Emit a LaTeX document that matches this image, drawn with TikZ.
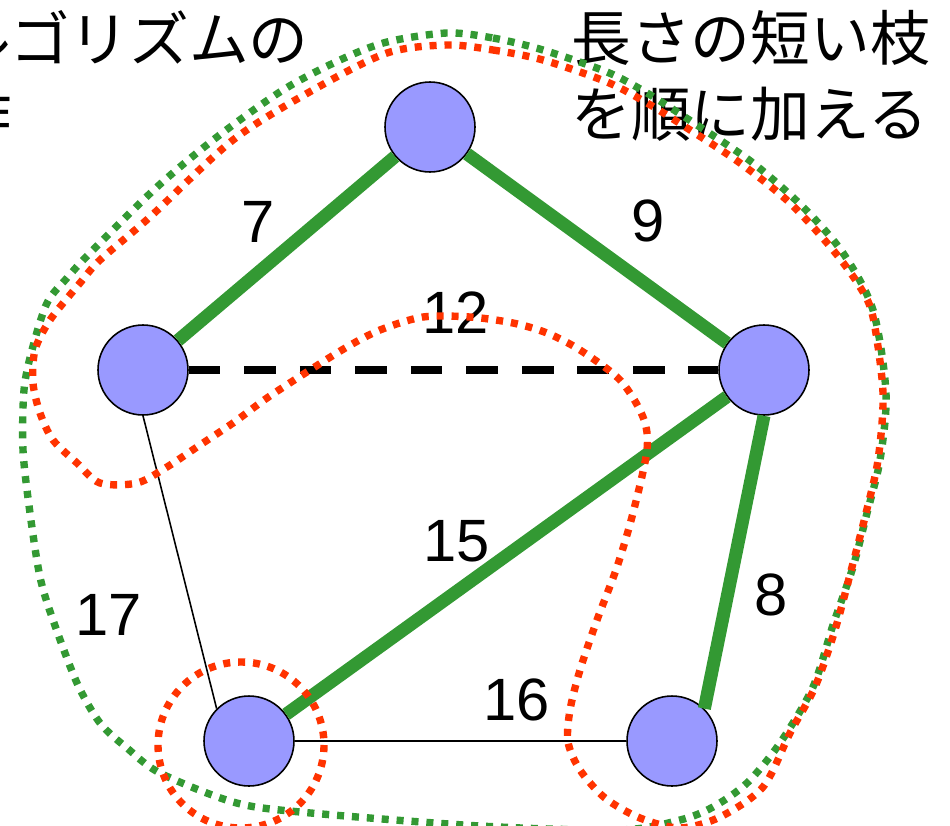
\documentclass[tikz,border=0pt]{standalone}
\usepackage{fontspec}
\setmainfont{Liberation Sans}
\newfontfamily\jpfont{Noto Sans CJK JP}
\definecolor{vertexblue}{HTML}{9999FF}
\definecolor{treegreen}{HTML}{339933}
\definecolor{setred}{HTML}{FF3300}

\begin{document}
\begin{tikzpicture}[x=0.02cm,y=-0.02cm,
    vertex/.style={circle,draw=black,line width=0.9pt,fill=vertexblue,minimum size=1.8cm,inner sep=0pt},
    chosen/.style={draw=treegreen,line width=7.4pt},
    rejected/.style={draw=black,line width=4.5pt,dash pattern=on 18pt off 13.6pt},
    unused/.style={draw=black,line width=0.9pt},
    weight/.style={font=\fontsize{34}{40}\selectfont,inner sep=0pt},
    jptext/.style={font=\fontsize{34}{43}\jpfont,align=left,inner sep=0pt},
    greenset/.style={draw=treegreen,line width=4.2pt,dash pattern=on 4pt off 4.5pt},
    redset/.style={draw=setred,line width=4.2pt,dash pattern=on 4pt off 4.5pt}]
    \useasboundingbox (0,0) rectangle (950,825);
    \clip (0,0) rectangle (950,825);

    % Text
    \node[jptext,anchor=base west] (title) at (-108,137) {アルゴリズムの\\動作};
    \node[jptext,anchor=base west] (rule) at (571,136) {長さの短い枝\\を順に加える};

    % Vertices
    \node[vertex] (top) at (430,127) {};
    \node[vertex] (left) at (143,370) {};
    \node[vertex] (right) at (764,370) {};
    \node[vertex] (botleft) at (249,741) {};
    \node[vertex] (botright) at (672,741) {};

    % Edges
    \draw[chosen] (top) -- (left);
    \draw[chosen] (top) -- (right);
    \draw[chosen] (right) -- (botleft);
    \draw[chosen] (right.south) -- (botright.45);
    \draw[rejected] (left) -- (right);
    \draw[unused] (left.south) -- (botleft.135);
    \draw[unused] (botleft) -- (botright);

    % Weights
    \node[weight] (w7) at (258,222) {7};
    \node[weight] (w9) at (648,221) {9};
    \node[weight] (w12) at (456,313) {12};
    \node[weight] (w15) at (457,541) {15};
    \node[weight] (w8) at (771,595) {8};
    \node[weight] (w17) at (109,615) {17};
    \node[weight] (w16) at (517,700) {16};

    % Sets of vertices
    \draw[greenset] plot[smooth cycle] coordinates {(447,33) (493,38) (543,50) (607,72) (647,93) (700,127) (753,163) (803,207) (843,253) (873,310) (886,393) (880,460) (867,513) (853,567) (833,625) (813,687) (780,743) (747,783) (713,807) (680,820) (620,830) (480,826) (300,812) (233,802) (160,773) (127,748) (100,723) (77,683) (53,620) (40,577) (30,513) (23,450) (24,390) (32,350) (47,303) (67,278) (90,253) (157,187) (217,137) (283,90) (340,60) (387,42)};
    \draw[redset] plot[smooth cycle] coordinates {(447,45) (493,50) (543,60) (607,82) (647,103) (687,128) (740,163) (790,203) (833,250) (860,287) (873,317) (883,393) (878,460) (866,513) (852,567) (835,630) (815,687) (790,733) (763,787) (720,817) (680,828) (640,818) (605,798) (580,770) (568,742) (570,710) (580,670) (597,620) (617,567) (633,513) (647,450) (643,417) (620,380) (580,350) (547,333) (513,323) (470,317) (423,317) (380,330) (347,347) (310,370) (267,398) (233,423) (200,445) (167,467) (137,483) (100,483) (77,463) (53,440) (40,413) (33,383) (35,350) (50,320) (80,283) (100,260) (150,217) (233,140) (313,90) (387,53)};
    \draw[redset] (241,745) circle (83);
\end{tikzpicture}
\end{document}
